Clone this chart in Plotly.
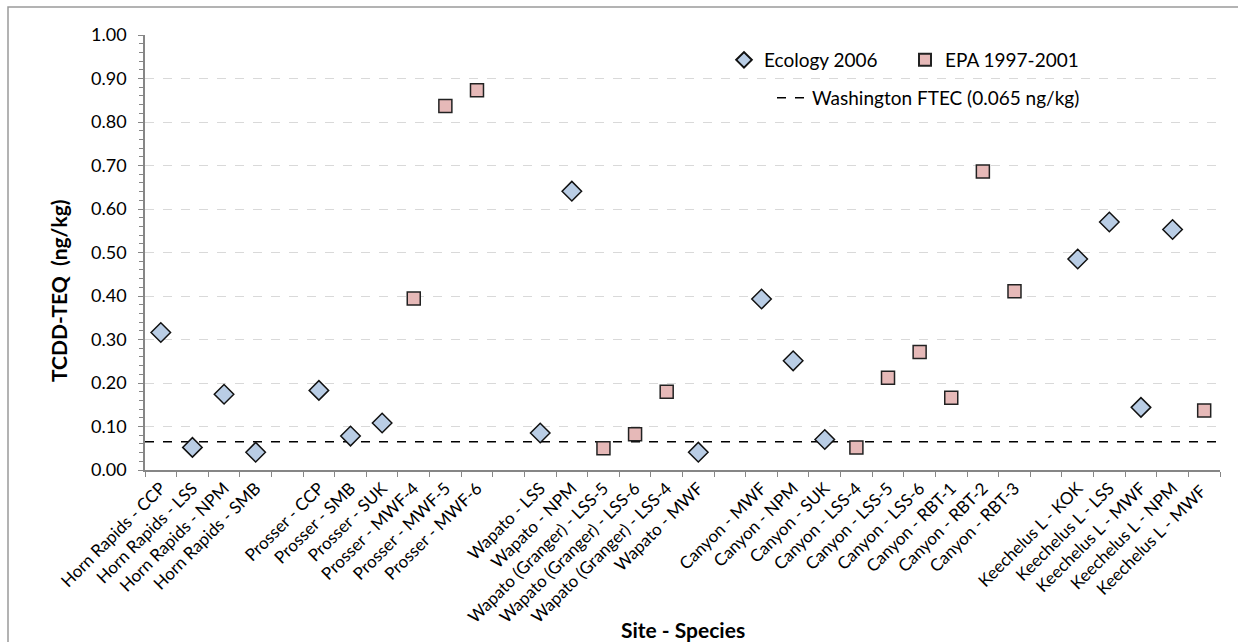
import plotly.graph_objects as go

# ---------------- data ----------------
categories = [
    "Horn Rapids - CCP", "Horn Rapids - LSS", "Horn Rapids - NPM", "Horn Rapids - SMB",
    " ",
    "Prosser - CCP", "Prosser - SMB", "Prosser - SUK", "Prosser - MWF-4", "Prosser - MWF-5", "Prosser - MWF-6",
    "  ",
    "Wapato - LSS", "Wapato - NPM", "Wapato (Granger) - LSS-5", "Wapato (Granger) - LSS-6",
    "Wapato (Granger) - LSS-4", "Wapato - MWF",
    "   ",
    "Canyon - MWF", "Canyon - NPM", "Canyon - SUK", "Canyon - LSS-4", "Canyon - LSS-5",
    "Canyon - LSS-6", "Canyon - RBT-1", "Canyon - RBT-2", "Canyon - RBT-3",
    "    ",
    "Keechelus L - KOK", "Keechelus L - LSS", "Keechelus L - MWF", "Keechelus L - NPM", "Keechelus L - MWF ",
]

ecology_sites = [
    "Horn Rapids - CCP", "Horn Rapids - LSS", "Horn Rapids - NPM", "Horn Rapids - SMB",
    "Prosser - CCP", "Prosser - SMB", "Prosser - SUK",
    "Wapato - LSS", "Wapato - NPM", "Wapato - MWF",
    "Canyon - MWF", "Canyon - NPM", "Canyon - SUK",
    "Keechelus L - KOK", "Keechelus L - LSS", "Keechelus L - MWF", "Keechelus L - NPM",
]
ecology_values = [
    0.316, 0.052, 0.174, 0.041,
    0.183, 0.078, 0.108,
    0.085, 0.641, 0.041,
    0.393, 0.251, 0.070,
    0.485, 0.570, 0.144, 0.553,
]

epa_sites = [
    "Prosser - MWF-4", "Prosser - MWF-5", "Prosser - MWF-6",
    "Wapato (Granger) - LSS-5", "Wapato (Granger) - LSS-6", "Wapato (Granger) - LSS-4",
    "Canyon - LSS-4", "Canyon - LSS-5", "Canyon - LSS-6", "Canyon - RBT-1", "Canyon - RBT-2", "Canyon - RBT-3",
    "Keechelus L - MWF ",
]
epa_values = [
    0.394, 0.837, 0.873,
    0.050, 0.082, 0.180,
    0.052, 0.212, 0.271, 0.166, 0.686, 0.411,
    0.137,
]

ftec_value = 0.065
ftec_label = "Washington FTEC (0.065 ng/kg)"

y_ticks = [0.0, 0.1, 0.2, 0.3, 0.4, 0.5, 0.6, 0.7, 0.8, 0.9, 1.0]

x_title = "Site - Species"
y_title = "TCDD-TEQ  (ng/kg)"

# ---------------- figure ----------------
FONT = "Lato, 'Open Sans', sans-serif"
W, H = 1238, 642
ML, MR, MT, MB = 145, 18, 35, 172
PW, PH = W - ML - MR, H - MT - MB


def px_x(px):
    return (px - ML) / PW


def px_y(py):
    return (MT + PH - py) / PH


fig = go.Figure()

fig.add_trace(go.Scatter(
    x=ecology_sites, y=ecology_values, mode="markers", name="Ecology 2006",
    marker=dict(symbol="diamond", size=15, color="#B9CDE5",
                line=dict(color="#111111", width=1.5)),
    legend="legend",
))
fig.add_trace(go.Scatter(
    x=epa_sites, y=epa_values, mode="markers", name="EPA 1997-2001",
    marker=dict(symbol="square", size=13, color="#E6B9B8",
                line=dict(color="#222222", width=1.5)),
    legend="legend",
))
# legend entry for FTEC line
fig.add_trace(go.Scatter(
    x=[None], y=[None], mode="lines", name=ftec_label,
    line=dict(color="black", width=1.5, dash="dash"),
    legend="legend2",
))

# FTEC reference line across the plot
fig.add_shape(type="line", xref="paper", yref="y", x0=0, x1=1, y0=ftec_value, y1=ftec_value,
              line=dict(color="black", width=1.5, dash="dash"), layer="below")

# outer chart border (extends beyond the canvas on right/bottom)
fig.add_shape(type="rect", xref="paper", yref="paper",
              x0=px_x(8), x1=px_x(1250), y0=px_y(660), y1=px_y(7),
              line=dict(color="#9A9A9A", width=1.5), fillcolor="rgba(0,0,0,0)", layer="below")

# axis titles
fig.add_annotation(text=f"<b>{x_title}</b>", xref="paper", yref="paper",
                   x=0.5, y=px_y(629), xanchor="center", yanchor="middle",
                   showarrow=False, font=dict(size=21, family=FONT, color="black"))
fig.add_annotation(text=f"<b>{y_title}</b>", xref="paper", yref="paper",
                   x=px_x(58), y=px_y(291), xanchor="center", yanchor="middle", textangle=-90,
                   showarrow=False, font=dict(size=21, family=FONT, color="black"))

fig.update_layout(
    width=W, height=H,
    margin=dict(l=ML, r=MR, t=MT, b=MB),
    paper_bgcolor="white", plot_bgcolor="white",
    font=dict(family=FONT, size=17, color="black"),
    showlegend=True,
    legend=dict(orientation="h", x=px_x(724), y=px_y(41),
                xanchor="left", yanchor="top", font=dict(size=19),
                bgcolor="rgba(0,0,0,0)", entrywidth=136, itemsizing="constant"),
    legend2=dict(orientation="h", x=px_x(772), y=px_y(79),
                 xanchor="left", yanchor="top", font=dict(size=19),
                 bgcolor="rgba(0,0,0,0)"),
    xaxis=dict(
        type="category", categoryorder="array", categoryarray=categories,
        range=[-0.5, len(categories) - 0.5],
        tickson="boundaries", ticks="outside", ticklen=5, tickcolor="#868686",
        tickangle=-45, showgrid=False, zeroline=False,
        showline=True, linecolor="#868686", linewidth=1.5,
        tickfont=dict(size=17, family=FONT),
    ),
    yaxis=dict(
        range=[0, 1], tickvals=y_ticks, tickformat=".2f",
        ticks="outside", ticklen=5, tickcolor="#868686",
        showgrid=True, gridcolor="#D9D9D9", griddash="dash", gridwidth=1,
        zeroline=False, showline=True, linecolor="#868686", linewidth=1.5,
        minor=dict(dtick=0.02, ticks="outside", ticklen=4, tickcolor="#868686", showgrid=False),
        tickfont=dict(size=18, family=FONT), ticklabelstandoff=8,
    ),
)

fig.write_html("out.html")
